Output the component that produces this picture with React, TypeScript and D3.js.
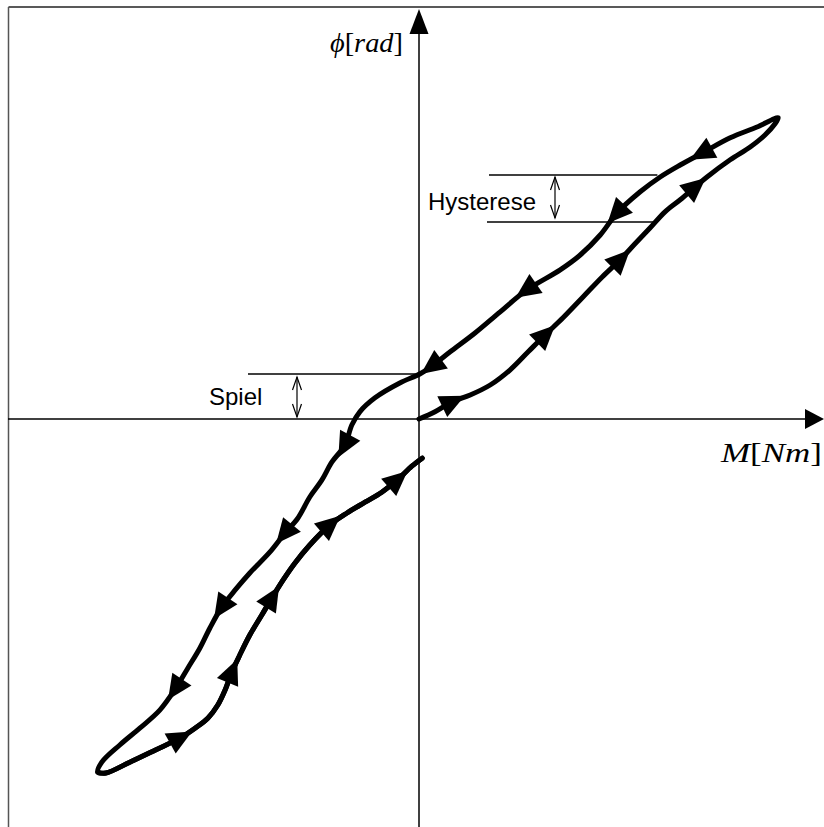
import React from "react";
import * as d3 from "d3";

// Hysteresis loop data, [M, phi] in arbitrary units (axes span -100..100)
const ascendingLower: [number, number][] = [
  [-80.3, -88.3], [-78.3, -88.5], [-72.3, -85.8], [-66, -82.8], [-59.8, -79.8],
  [-56, -77.3], [-52.8, -74.8], [-50.3, -71.5], [-48.5, -67.8], [-46.8, -63.3],
  [-44.8, -59], [-42.3, -54], [-39.3, -49], [-36.8, -44.8], [-34, -40.3],
  [-31, -36], [-27.3, -31.5], [-22.3, -26.5], [-18, -23.5], [-13.5, -20.8],
  [-9.3, -18.3], [-5.5, -15.3], [-1.8, -11.8], [0.8, -9.8],
];
const ascendingUpper: [number, number][] = [
  [0, 0], [4, 1.8], [8.3, 4.3], [12.8, 6], [17.8, 8.5], [22.8, 12.3],
  [27.3, 16.8], [31.5, 21], [36, 25.3], [41, 30.5], [45.8, 35.5], [50.3, 39.8],
  [54, 43.8], [57.8, 47.8], [61.5, 51.8], [65.3, 54.8], [69, 58], [72, 60.5],
  [77.8, 64.8], [82.8, 68], [86.5, 71], [89, 73.8], [89.8, 75.3],
];
const descending: [number, number][] = [
  [89.8, 75.3], [84.5, 73], [77.8, 70.3], [70.8, 66.5], [65.3, 63.5],
  [60.3, 60.5], [55.3, 56.8], [49.5, 51.5], [45.3, 46], [40.3, 41],
  [35.3, 37.3], [27, 32.3], [20.3, 26.8], [14, 21.5], [7.8, 16.8],
  [3.3, 13.3], [0.3, 11.3], [-4.8, 9], [-11, 5.3], [-14.8, 1.8],
  [-16.8, -1.5], [-18.5, -6.5], [-21.8, -10.8], [-24.3, -15.3], [-27.3, -19.5],
  [-30.3, -24.8], [-33.5, -28.5], [-37.3, -33.3], [-42.3, -38.5], [-46, -42.8],
  [-49.3, -47], [-52.3, -52.3], [-54.8, -57.3], [-57.8, -62.3], [-60.8, -67.3],
  [-64.8, -72.8], [-69.8, -77.3], [-74.8, -81.5], [-79.3, -85.8], [-80.3, -88.3],
];
// indices of direction arrows along each branch
const arrowsAscLower = [4, 9, 13, 17, 21];
const arrowsAscUpper = [2, 7, 11, 16];
const arrowsDesc = [3, 7, 11, 15, 21, 26, 30, 34];

// annotations
const hystTop = 61;
const hystBottom = 49.25;
const hystLeft = 17.5;
const hystRight = 59.6;
const hystArrowM = 34;
const spielTop = 11.25;
const spielLeft = -42.75;
const spielArrowM = -30.5;

const W = 824;
const H = 827;
const x = d3.scaleLinear().domain([-100, 100]).range([19, 819]);
const y = d3.scaleLinear().domain([-100, 100]).range([819, 19]);

const line = d3
  .line<[number, number]>()
  .x((d) => x(d[0]))
  .y((d) => y(d[1]))
  .curve(d3.curveCatmullRom.alpha(0.5));

function arrowHead(pts: [number, number][], i: number, key: string) {
  const a = pts[i - 1];
  const b = pts[i + 1];
  const ang = Math.atan2(y(b[1]) - y(a[1]), x(b[0]) - x(a[0]));
  const cx = x(pts[i][0]);
  const cy = y(pts[i][1]);
  const deg = (ang * 180) / Math.PI;
  return (
    <path
      key={key}
      d="M14,0 L-11,-11.5 L-11,11.5 Z"
      transform={`translate(${cx},${cy}) rotate(${deg})`}
      fill="#000"
    />
  );
}

function DoubleArrow({ m, y1, y2 }: { m: number; y1: number; y2: number }) {
  const px = x(m);
  return (
    <g stroke="#000" strokeWidth={1.2} fill="none">
      <line x1={px} y1={y1} x2={px} y2={y2} />
      <path d={`M${px - 4.5},${y1 + 13} L${px},${y1} L${px + 4.5},${y1 + 13}`} />
      <path d={`M${px - 4.5},${y2 - 13} L${px},${y2} L${px + 4.5},${y2 - 13}`} />
    </g>
  );
}

export default function App() {
  const loopPts = [...ascendingUpper, ...descending.slice(1), ...ascendingLower.slice(1)];
  const x0 = x(0);
  const y0 = y(0);
  const serif = "'Liberation Serif', 'DejaVu Serif', serif";
  return (
    <svg
      width={W}
      height={H}
      style={{ position: "absolute", left: 0, top: 0, background: "#fff" }}
    >
      {/* frame */}
      <line x1={8.5} y1={7} x2={W} y2={7} stroke="#222" strokeWidth={1.5} />
      <line x1={8.5} y1={7} x2={8.5} y2={H} stroke="#555" strokeWidth={1.5} />

      {/* axes */}
      <line x1={8} y1={y0} x2={W - 14} y2={y0} stroke="#000" strokeWidth={1.5} />
      <path d={`M${W},${y0} L${805},${y0 - 10} L${805},${y0 + 10} Z`} fill="#000" />
      <line x1={x0} y1={H} x2={x0} y2={24} stroke="#000" strokeWidth={1.5} />
      <path d={`M${x0},${9} L${x0 - 9.5},${34} L${x0 + 9.5},${34} Z`} fill="#000" />

      {/* axis labels */}
      <text x={330} y={52} fontFamily={serif} fontSize={28} textLength={73} lengthAdjust="spacingAndGlyphs">
        <tspan fontStyle="italic">ϕ</tspan>
        <tspan>[</tspan>
        <tspan fontStyle="italic">rad</tspan>
        <tspan>]</tspan>
      </text>
      <text x={721} y={462} fontFamily={serif} fontSize={28} textLength={101} lengthAdjust="spacingAndGlyphs">
        <tspan fontStyle="italic">M</tspan>
        <tspan>[</tspan>
        <tspan fontStyle="italic">Nm</tspan>
        <tspan>]</tspan>
      </text>

      {/* hysteresis loop */}
      <path
        d={line(ascendingLower) || ""}
        fill="none"
        stroke="#000"
        strokeWidth={5}
        strokeLinejoin="round"
        strokeLinecap="round"
      />
      <path
        d={line(loopPts) || ""}
        fill="none"
        stroke="#000"
        strokeWidth={5}
        strokeLinejoin="round"
        strokeLinecap="round"
      />
      {arrowsAscLower.map((i) => arrowHead(ascendingLower, i, "al" + i))}
      {arrowsAscUpper.map((i) => arrowHead(ascendingUpper, i, "au" + i))}
      {arrowsDesc.map((i) => arrowHead(descending, i, "d" + i))}

      {/* Hysterese annotation */}
      <line x1={x(hystLeft)} y1={y(hystTop)} x2={x(hystRight)} y2={y(hystTop)} stroke="#000" strokeWidth={1.5} />
      <line x1={x(hystLeft - 0.5)} y1={y(hystBottom)} x2={x(hystRight)} y2={y(hystBottom)} stroke="#000" strokeWidth={1.5} />
      <DoubleArrow m={hystArrowM} y1={y(hystTop) + 2} y2={y(hystBottom) - 4} />
      <text x={428} y={210} fontFamily="'Liberation Sans', Arial, sans-serif" fontSize={24}>
        Hysterese
      </text>

      {/* Spiel annotation */}
      <line x1={x(spielLeft)} y1={y(spielTop)} x2={x0} y2={y(spielTop)} stroke="#000" strokeWidth={1.5} />
      <DoubleArrow m={spielArrowM} y1={y(spielTop) + 3} y2={y0 - 2} />
      <text x={209} y={405} fontFamily="'Liberation Sans', Arial, sans-serif" fontSize={24}>
        Spiel
      </text>
    </svg>
  );
}
